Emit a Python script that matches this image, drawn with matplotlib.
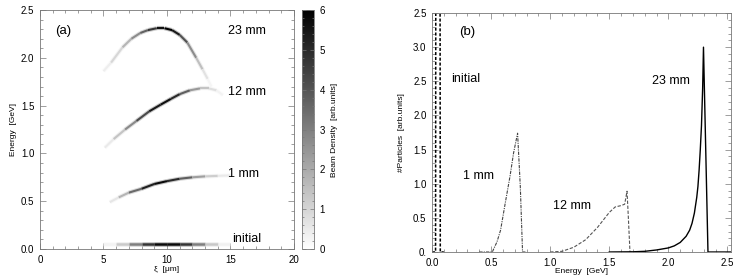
import numpy as np
import matplotlib
matplotlib.use("Agg")
import matplotlib.pyplot as plt
from matplotlib.collections import LineCollection
from matplotlib.colors import Normalize
from matplotlib.cm import ScalarMappable
from matplotlib.ticker import MultipleLocator, FixedLocator, FixedFormatter

plt.rcParams['font.family'] = ['Liberation Sans', 'DejaVu Sans']

# ---- panel (a): phase space traces, xi [um], energy [GeV], density [arb.units]
xi_23 = [5.0, 5.6, 6.5, 7.2, 7.9, 8.5, 9.2, 9.8, 10.4, 11.0, 11.6, 12.3, 12.8, 13.2, 13.5]
en_23 = [1.86, 1.95, 2.11, 2.20, 2.26, 2.29, 2.31, 2.31, 2.29, 2.24, 2.16, 2.00, 1.88, 1.78, 1.70]
de_23 = [0.2, 0.6, 1.3, 2.2, 3.2, 4.2, 5.2, 6.0, 6.0, 4.8, 3.4, 2.0, 1.0, 0.4, 0.1]

xi_12 = [5.1, 5.8, 6.7, 7.6, 8.6, 9.5, 10.3, 11.0, 11.8, 12.6, 13.3, 13.9, 14.4]
en_12 = [1.06, 1.15, 1.25, 1.34, 1.44, 1.51, 1.57, 1.62, 1.66, 1.68, 1.68, 1.66, 1.61]
de_12 = [0.2, 0.8, 2.0, 3.5, 5.0, 5.8, 5.5, 4.5, 3.0, 1.8, 1.0, 0.5, 0.1]

xi_1 = [5.5, 6.2, 7.0, 8.0, 9.0, 10.0, 11.0, 12.0, 13.0, 14.0, 15.0]
en_1 = [0.49, 0.54, 0.59, 0.63, 0.68, 0.71, 0.735, 0.75, 0.76, 0.765, 0.77]
de_1 = [0.2, 1.0, 2.5, 4.5, 6.0, 5.5, 4.5, 3.0, 1.5, 0.8, 0.2]

xi_0 = [5.0, 6.0, 7.0, 8.0, 9.0, 10.0, 11.0, 12.0, 13.0, 14.0, 15.0]
en_0 = [0.05, 0.05, 0.05, 0.05, 0.05, 0.05, 0.05, 0.05, 0.05, 0.05, 0.05]
de_0 = [0.1, 0.5, 2.0, 4.0, 5.5, 6.0, 5.5, 4.0, 2.0, 0.6, 0.1]

# ---- panel (b): spectra, energy [GeV] vs #particles [arb.units]
e_init = [0.0, 0.03, 0.05, 0.07, 0.10]
n_init = [0.0, 0.0, 40.0, 0.0, 0.0]

e_1mm = [0.40, 0.51, 0.55, 0.58, 0.62, 0.66, 0.69, 0.724, 0.747, 0.766, 0.80]
n_1mm = [0.0, 0.0, 0.15, 0.32, 0.72, 1.11, 1.45, 1.74, 0.96, 0.0, 0.0]

e_12mm = [1.0, 1.1, 1.2, 1.3, 1.4, 1.45, 1.5, 1.55, 1.6, 1.63, 1.65, 1.66, 1.675, 1.75]
n_12mm = [0.0, 0.01, 0.07, 0.18, 0.36, 0.47, 0.58, 0.66, 0.68, 0.70, 0.89, 0.55, 0.0, 0.0]

e_23mm = [1.5, 1.7, 1.8, 1.9, 2.0, 2.05, 2.1, 2.15, 2.18, 2.2, 2.22, 2.24, 2.25,
          2.26, 2.27, 2.28, 2.29, 2.297, 2.335, 2.6]
n_23mm = [0.0, 0.003, 0.01, 0.03, 0.06, 0.09, 0.14, 0.23, 0.32, 0.42, 0.57, 0.80, 0.96,
          1.2, 1.5, 1.85, 2.4, 3.0, 0.0, 0.0]

yticks_b = [0.0, 0.5, 1.0, 1.5, 2.0, 2.5, 3.0, 3.5]
ytlabels_b = ["0.", "0.5", "1.0", "1.5", "2.0", "2.5", "3.0", "2.5"]

fig = plt.figure(figsize=(7.39, 2.75), dpi=100)
ax1 = fig.add_axes([0.0541, 0.0945, 0.3437, 0.869])
cax = fig.add_axes([0.4087, 0.0945, 0.0162, 0.869])
ax2 = fig.add_axes([0.5846, 0.0836, 0.4046, 0.869])

norm = Normalize(0, 6)
cmap = plt.get_cmap('gray_r')


def trace(ax, xs, ys, ds, lw):
    pts = np.column_stack([xs, ys])
    segs = np.stack([pts[:-1], pts[1:]], axis=1)
    d = np.asarray(ds)
    mid = (d[:-1] + d[1:]) / 2
    # soft halo then core line
    halo = LineCollection(segs, cmap=cmap, norm=norm, linewidths=lw * 2.0,
                          alpha=0.25, capstyle='butt')
    halo.set_array(mid)
    ax.add_collection(halo)
    core = LineCollection(segs, cmap=cmap, norm=norm, linewidths=lw,
                          capstyle='butt')
    core.set_array(mid)
    ax.add_collection(core)


trace(ax1, xi_23, en_23, de_23, 1.5)
trace(ax1, xi_12, en_12, de_12, 1.5)
trace(ax1, xi_1, en_1, de_1, 1.5)
trace(ax1, xi_0, en_0, de_0, 1.8)

ax1.set_xlim(0, 20)
ax1.set_ylim(0, 2.5)
ax1.xaxis.set_major_locator(MultipleLocator(5))
ax1.xaxis.set_minor_locator(MultipleLocator(1))
ax1.yaxis.set_major_locator(MultipleLocator(0.5))
ax1.yaxis.set_minor_locator(MultipleLocator(0.1))
ax1.yaxis.set_major_formatter(matplotlib.ticker.FormatStrFormatter('%.1f'))
ax1.set_xlabel("ξ  [μm]", fontsize=6, labelpad=1)
ax1.set_ylabel("Energy  [GeV]", fontsize=6, labelpad=3)
ax1.text(1.2, 2.28, "(a)", fontsize=9.5, va='center')
ax1.text(14.8, 2.28, "23 mm", fontsize=9, va='center')
ax1.text(14.8, 1.64, "12 mm", fontsize=9, va='center')
ax1.text(14.8, 0.78, "1 mm", fontsize=9, va='center')
ax1.text(15.1, 0.10, "initial", fontsize=9, va='center')

sm = ScalarMappable(norm=norm, cmap=cmap)
cb = fig.colorbar(sm, cax=cax)
cb.set_ticks([0, 1, 2, 3, 4, 5, 6])
cb.ax.yaxis.set_minor_locator(MultipleLocator(0.2))
cb.ax.tick_params(which='both', direction='in', left=True, right=True,
                  labelsize=7, pad=4, width=0.5, color='#777')
cb.ax.tick_params(which='major', length=3)
cb.ax.tick_params(which='minor', length=1.5)
cb.outline.set_linewidth(0.6)
cb.outline.set_edgecolor('#777')
cb.set_label("Beam Density  [arb.units]", fontsize=6, labelpad=4)

ax2.plot(e_init, n_init, color='black', lw=1.1, linestyle=(0, (2, 1.2)))
ax2.plot(e_1mm, n_1mm, color='#444444', lw=0.8, linestyle=(0, (3, 1, 1, 1)))
ax2.plot(e_12mm, n_12mm, color='#555555', lw=0.8, linestyle=(0, (3, 1.5)))
ax2.plot(e_23mm, n_23mm, color='black', lw=1.0)
ax2.set_xlim(0, 2.53)
ax2.set_ylim(0, 3.5)
ax2.xaxis.set_major_locator(MultipleLocator(0.5))
ax2.xaxis.set_minor_locator(MultipleLocator(0.1))
ax2.xaxis.set_major_formatter(matplotlib.ticker.FormatStrFormatter('%.1f'))
ax2.yaxis.set_major_locator(FixedLocator(yticks_b))
ax2.yaxis.set_major_formatter(FixedFormatter(ytlabels_b))
ax2.yaxis.set_minor_locator(MultipleLocator(0.1))
ax2.set_xlabel("Energy  [GeV]", fontsize=6, labelpad=0)
ax2.set_ylabel("#Particles  [arb.units]", fontsize=6, labelpad=6)
ax2.text(0.23, 3.22, "(b)", fontsize=9.5, va='center')
ax2.text(0.16, 2.53, "initial", fontsize=9, va='center')
ax2.text(0.26, 1.11, "1 mm", fontsize=9, va='center')
ax2.text(1.02, 0.67, "12 mm", fontsize=9, va='center')
ax2.text(1.86, 2.50, "23 mm", fontsize=9, va='center')

for ax in (ax1, ax2):
    ax.tick_params(which='both', direction='in', top=True, right=True,
                   labelsize=7, pad=4, width=0.5, color='#777')
    ax.tick_params(which='major', length=4)
    ax.tick_params(which='minor', length=2)
    for s in ax.spines.values():
        s.set_linewidth(0.6)
        s.set_edgecolor('#777')

fig.savefig("out.png", dpi=100)
